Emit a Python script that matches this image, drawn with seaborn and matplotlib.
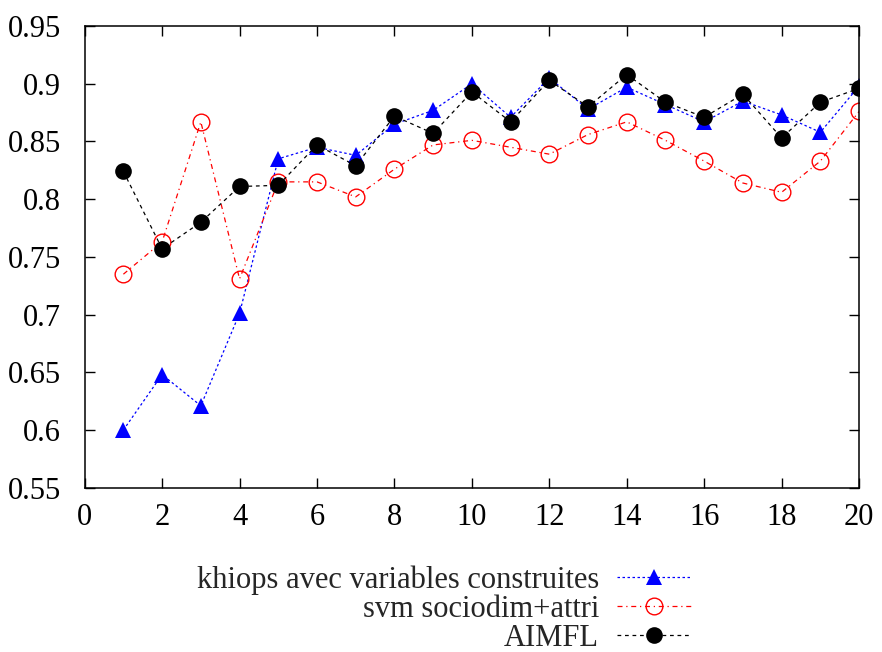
import numpy as np
import pandas as pd
import matplotlib
matplotlib.use("Agg")
import matplotlib.pyplot as plt
import seaborn as sns

# values
x_vals = list(range(1, 21))
khiops = [0.600, 0.648, 0.621, 0.701, 0.835, 0.845, 0.838, 0.865, 0.877, 0.900,
          0.871, 0.905, 0.878, 0.897, 0.882, 0.867, 0.885, 0.873, 0.858, 0.898]
svm = [0.735, 0.763, 0.867, 0.731, 0.815, 0.815, 0.802, 0.826, 0.847, 0.851,
       0.845, 0.839, 0.856, 0.867, 0.851, 0.833, 0.814, 0.806, 0.833, 0.876]
aimfl = [0.824, 0.757, 0.780, 0.811, 0.812, 0.847, 0.829, 0.872, 0.857, 0.893,
         0.867, 0.903, 0.880, 0.908, 0.884, 0.871, 0.891, 0.853, 0.884, 0.896]
labels = ["khiops avec variables construites", "svm sociodim+attri", "AIMFL"]

sns.set_theme(style="ticks")
plt.rcParams['font.family'] = ['Liberation Serif', 'DejaVu Serif']
plt.rcParams['font.size'] = 22

fig = plt.figure(figsize=(8.82, 6.52), dpi=100)
ax = fig.add_axes([0.096, 0.252, 0.878, 0.708])

sns.lineplot(x=x_vals, y=khiops, ax=ax, color="#0000ff", lw=0.9,
             marker="^", markersize=12, markeredgewidth=0, markerfacecolor="#0000ff",
             dashes=False, label=labels[0])
ax.lines[-1].set_dashes((2, 2))
sns.lineplot(x=x_vals, y=svm, ax=ax, color="#ff0000", lw=0.9,
             marker="o", markersize=12, markerfacecolor="none", markeredgecolor="#ff0000",
             markeredgewidth=1.0, label=labels[1])
ax.lines[-1].set_dashes((4, 3, 1, 3))
sns.lineplot(x=x_vals, y=aimfl, ax=ax, color="black", lw=0.9,
             marker="o", markersize=12, markerfacecolor="black", markeredgewidth=0,
             label=labels[2])
ax.lines[-1].set_dashes((3, 3))

ax.set_xlim(0, 20)
ax.set_ylim(0.55, 0.95)
ax.set_xticks(range(0, 21, 2))
ax.set_yticks(np.arange(0.55, 0.951, 0.05))
ax.set_yticklabels(["0.55", "0.6", "0.65", "0.7", "0.75", "0.8", "0.85", "0.9", "0.95"])
ax.tick_params(direction="in", length=7, width=1, top=True, right=True,
               labelsize=22, colors="black")
ax.tick_params(axis="y", pad=17)
ax.tick_params(axis="x", pad=11)
for s in ax.spines.values():
    s.set_linewidth(1.1)
    s.set_color("black")

handles, labs = ax.get_legend_handles_labels()
ax.get_legend().remove()
fig.legend(handles, labs, loc="lower center", bbox_to_anchor=(0.503, -0.043),
           frameon=False, markerfirst=False, handlelength=2.4, labelspacing=0.0,
           handletextpad=0.6, fontsize=22)

fig.savefig("out.png", dpi=100)
